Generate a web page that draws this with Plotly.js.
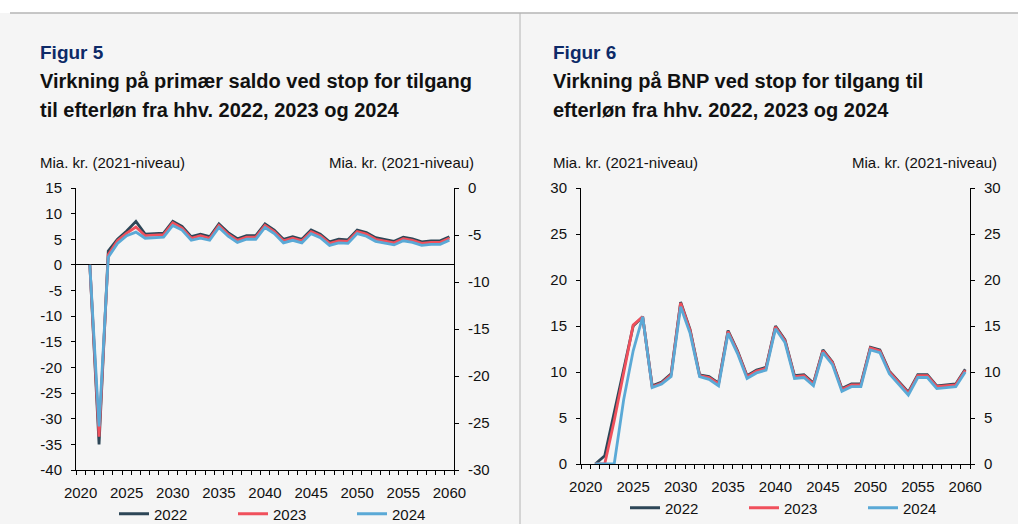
<!DOCTYPE html>
<html>
<head>
<meta charset="utf-8">
<script src="https://cdn.plot.ly/plotly-3.0.1.min.js"></script>
<style>
  html, body { margin: 0; padding: 0; background: #f5f5f5; overflow: hidden; }
  #chart { width: 1018px; height: 548px; }
</style>
</head>
<body>
<div id="chart"></div>
<script>
// ---------- data ----------
const years = [2021, 2022, 2023, 2024, 2025, 2026, 2027, 2028, 2029, 2030,
               2031, 2032, 2033, 2034, 2035, 2036, 2037, 2038, 2039, 2040,
               2041, 2042, 2043, 2044, 2045, 2046, 2047, 2048, 2049, 2050,
               2051, 2052, 2053, 2054, 2055, 2056, 2057, 2058, 2059, 2060];

const seriesNames = ["2022", "2023", "2024"];

// Figur 5: primary balance (Mia. kr.)
const saldo2022 = [0, -35, 2.7, 5.0, 6.6, 8.5, 6.0, 6.1, 6.2, 8.5,
                   7.5, 5.5, 6.0, 5.5, 8.0, 6.3, 5.1, 5.7, 5.7, 8.0,
                   6.8, 5.0, 5.5, 5.0, 6.8, 6.0, 4.5, 5.0, 4.9, 6.8,
                   6.3, 5.3, 5.0, 4.6, 5.4, 5.1, 4.5, 4.7, 4.7, 5.5];
const saldo2023 = [0, -33.5, 2.0, 4.7, 6.2, 7.4, 5.7, 5.8, 5.9, 8.2,
                   7.2, 5.2, 5.7, 5.2, 7.7, 6.0, 4.8, 5.4, 5.4, 7.7,
                   6.5, 4.7, 5.2, 4.7, 6.5, 5.7, 4.2, 4.7, 4.6, 6.5,
                   6.0, 5.0, 4.7, 4.3, 5.1, 4.8, 4.2, 4.4, 4.4, 5.2];
const saldo2024 = [0, -31.5, 1.5, 4.2, 5.7, 6.4, 5.2, 5.3, 5.4, 7.7,
                   6.8, 4.8, 5.2, 4.8, 7.3, 5.6, 4.4, 5.0, 5.0, 7.3,
                   6.1, 4.3, 4.8, 4.3, 6.1, 5.3, 3.8, 4.3, 4.2, 6.1,
                   5.6, 4.6, 4.3, 3.9, 4.7, 4.4, 3.8, 4.0, 4.0, 4.8];

// Figur 6: GDP (Mia. kr.)
const bnp2022 = [0, 0.9, 5.6, 10.3, 15.0, 16.0, 8.5, 8.9, 9.8, 17.6,
                 14.6, 9.7, 9.5, 8.8, 14.5, 12.3, 9.6, 10.2, 10.5, 15.0,
                 13.5, 9.6, 9.7, 8.8, 12.4, 11.1, 8.2, 8.7, 8.7, 12.7,
                 12.4, 10.1, 8.9, 7.8, 9.7, 9.7, 8.5, 8.6, 8.7, 10.3];
const bnp2023 = [0, 0, 4.7, 9.9, 15.1, 16.0, 8.4, 8.8, 9.7, 17.5,
                 14.5, 9.6, 9.4, 8.7, 14.4, 12.2, 9.5, 10.1, 10.4, 14.9,
                 13.4, 9.5, 9.6, 8.7, 12.3, 11.0, 8.1, 8.6, 8.6, 12.6,
                 12.3, 10.0, 8.8, 7.7, 9.6, 9.6, 8.4, 8.5, 8.6, 10.2];
const bnp2024 = [0, 0, 0, 7.0, 12.3, 16.0, 8.3, 8.7, 9.5, 17.1,
                 14.2, 9.5, 9.2, 8.5, 14.2, 12.0, 9.3, 9.9, 10.2, 14.7,
                 13.2, 9.3, 9.4, 8.5, 12.1, 10.8, 7.9, 8.4, 8.4, 12.4,
                 12.1, 9.8, 8.6, 7.5, 9.4, 9.4, 8.2, 8.3, 8.4, 10.0];

const xTickLabels = [2020, 2025, 2030, 2035, 2040, 2045, 2050, 2055, 2060];
const saldoLeftTicks = [-40, -35, -30, -25, -20, -15, -10, -5, 0, 5, 10, 15];
const saldoRightTicks = [-30, -25, -20, -15, -10, -5, 0];
const bnpTicks = [0, 5, 10, 15, 20, 25, 30];

// ---------- helpers ----------
// canvas is a little taller than the window so the legends never push the margins
const W = 1018, H = 548;
const PX = p => p / W;
const PY = p => 1 - p / H;
const FONT = "Liberation Sans, Arial, sans-serif";
const colors = ["#2d4657", "#f0505c", "#5aa9d6"];

const saldoSeries = [saldo2022, saldo2023, saldo2024];
const bnpSeries = [bnp2022, bnp2023, bnp2024];

const traces = [];
saldoSeries.forEach((vals, i) => {
  traces.push({
    type: "scatter", mode: "lines", x: years, y: vals,
    name: seriesNames[i], xaxis: "x", yaxis: "y", legend: "legend",
    line: { color: colors[i], width: 2.8 }
  });
});
bnpSeries.forEach((vals, i) => {
  traces.push({
    type: "scatter", mode: "lines", x: years, y: vals,
    name: seriesNames[i], xaxis: "x2", yaxis: "y3", legend: "legend2",
    line: { color: colors[i], width: 2.8 }
  });
});
// empty traces to anchor secondary (right) axes
traces.push({ type: "scatter", x: [], y: [], xaxis: "x", yaxis: "y2", showlegend: false, hoverinfo: "skip" });
traces.push({ type: "scatter", x: [], y: [], xaxis: "x2", yaxis: "y4", showlegend: false, hoverinfo: "skip" });

const tickFont = { family: FONT, size: 15, color: "#111" };

function xAxis(domain, anchor) {
  return {
    domain: domain, anchor: anchor, range: [2019.5, 2060.5],
    tickmode: "array", tickvals: xTickLabels, ticktext: xTickLabels.map(String),
    ticks: "", showgrid: false, zeroline: false,
    showline: true, linecolor: "#000", linewidth: 1,
    tickfont: tickFont, ticklabelstandoff: 9, automargin: false,
    minor: { tickmode: "linear", tick0: 2019.5, dtick: 1, ticks: "outside",
             ticklen: 4, tickcolor: "#000", tickwidth: 1, showgrid: false }
  };
}
function yAxis(domain, anchor, range, ticks, side, overlaying, zeroline) {
  const ax = {
    domain: domain, anchor: anchor, range: range,
    tickmode: "array", tickvals: ticks, ticktext: ticks.map(String),
    ticks: "outside", ticklen: 4, tickcolor: "#000", tickwidth: 1,
    showgrid: false, zeroline: !!zeroline, zerolinecolor: "#000", zerolinewidth: 1,
    showline: true, linecolor: "#000", linewidth: 1, automargin: false,
    tickfont: tickFont, side: side, ticklabelstandoff: 6
  };
  if (overlaying) ax.overlaying = overlaying;
  return ax;
}

const leftXDom = [PX(76), PX(454)];
const leftYDom = [PY(470), PY(188)];
const rightXDom = [PX(581), PX(970)];
const rightYDom = [PY(464), PY(188)];

function ann(text, x, y, opts) {
  return Object.assign({
    text: text, x: PX(x), y: PY(y), xref: "paper", yref: "paper",
    xanchor: "left", yanchor: "middle", showarrow: false,
    font: { family: FONT, size: 15, color: "#111" }
  }, opts || {});
}
const titleFont = { family: FONT, size: 20, color: "#111", weight: "bold" };
const figFont = { family: FONT, size: 19, color: "#0d2a68", weight: "bold" };

const annotations = [
  ann("<b>Figur 5</b>", 38, 52, { font: figFont }),
  ann("<b>Virkning på primær saldo ved stop for tilgang</b>", 38, 81, { font: titleFont }),
  ann("<b>til efterløn fra hhv. 2022, 2023 og 2024</b>", 38, 110, { font: titleFont }),
  ann("Mia. kr. (2021-niveau)", 38, 162),
  ann("Mia. kr. (2021-niveau)", 476, 162, { xanchor: "right" }),
  ann("<b>Figur 6</b>", 551, 52, { font: figFont }),
  ann("<b>Virkning på BNP ved stop for tilgang til</b>", 551, 81, { font: titleFont }),
  ann("<b>efterløn fra hhv. 2022, 2023 og 2024</b>", 551, 110, { font: titleFont }),
  ann("Mia. kr. (2021-niveau)", 551, 162),
  ann("Mia. kr. (2021-niveau)", 999, 162, { xanchor: "right" })
];

const shapes = [
  { type: "rect", xref: "paper", yref: "paper", x0: 0, x1: 1, y0: PY(13), y1: 1,
    fillcolor: "#ffffff", line: { width: 0 }, layer: "below" },
  { type: "line", xref: "paper", yref: "paper", x0: PX(10), x1: 1, y0: PY(13), y1: PY(13),
    line: { color: "#b4b4b4", width: 1.5 } },
  { type: "line", xref: "paper", yref: "paper", x0: PX(520), x1: PX(520), y0: 0, y1: PY(13),
    line: { color: "#b4b4b4", width: 1 } }
];

const legendBase = {
  orientation: "h", xanchor: "left", yanchor: "middle",
  bgcolor: "rgba(0,0,0,0)", font: { family: FONT, size: 15, color: "#111" },
  entrywidth: 74, entrywidthmode: "pixels", tracegroupgap: 0, itemwidth: 30
};

const layout = {
  width: W, height: H,
  margin: { l: 0, r: 0, t: 0, b: 0, pad: 0 },
  paper_bgcolor: "#f5f5f5", plot_bgcolor: "rgba(0,0,0,0)",
  font: { family: FONT, size: 15, color: "#111" },
  showlegend: true,
  xaxis: xAxis(leftXDom, "y"),
  yaxis: yAxis(leftYDom, "x", [-40, 15], saldoLeftTicks, "left", null, true),
  yaxis2: yAxis(leftYDom, "x", [-30, 0], saldoRightTicks, "right", "y", false),
  xaxis2: xAxis(rightXDom, "y3"),
  yaxis3: yAxis(rightYDom, "x2", [0, 30], bnpTicks, "left", null, false),
  yaxis4: yAxis(rightYDom, "x2", [0, 30], bnpTicks, "right", "y3", false),
  legend: Object.assign({}, legendBase, { x: PX(114), y: PY(514) }),
  legend2: Object.assign({}, legendBase, { x: PX(625), y: PY(508) }),
  annotations: annotations,
  shapes: shapes
};

Plotly.newPlot("chart", traces, layout, { staticPlot: true, displayModeBar: false });
</script>
</body>
</html>
